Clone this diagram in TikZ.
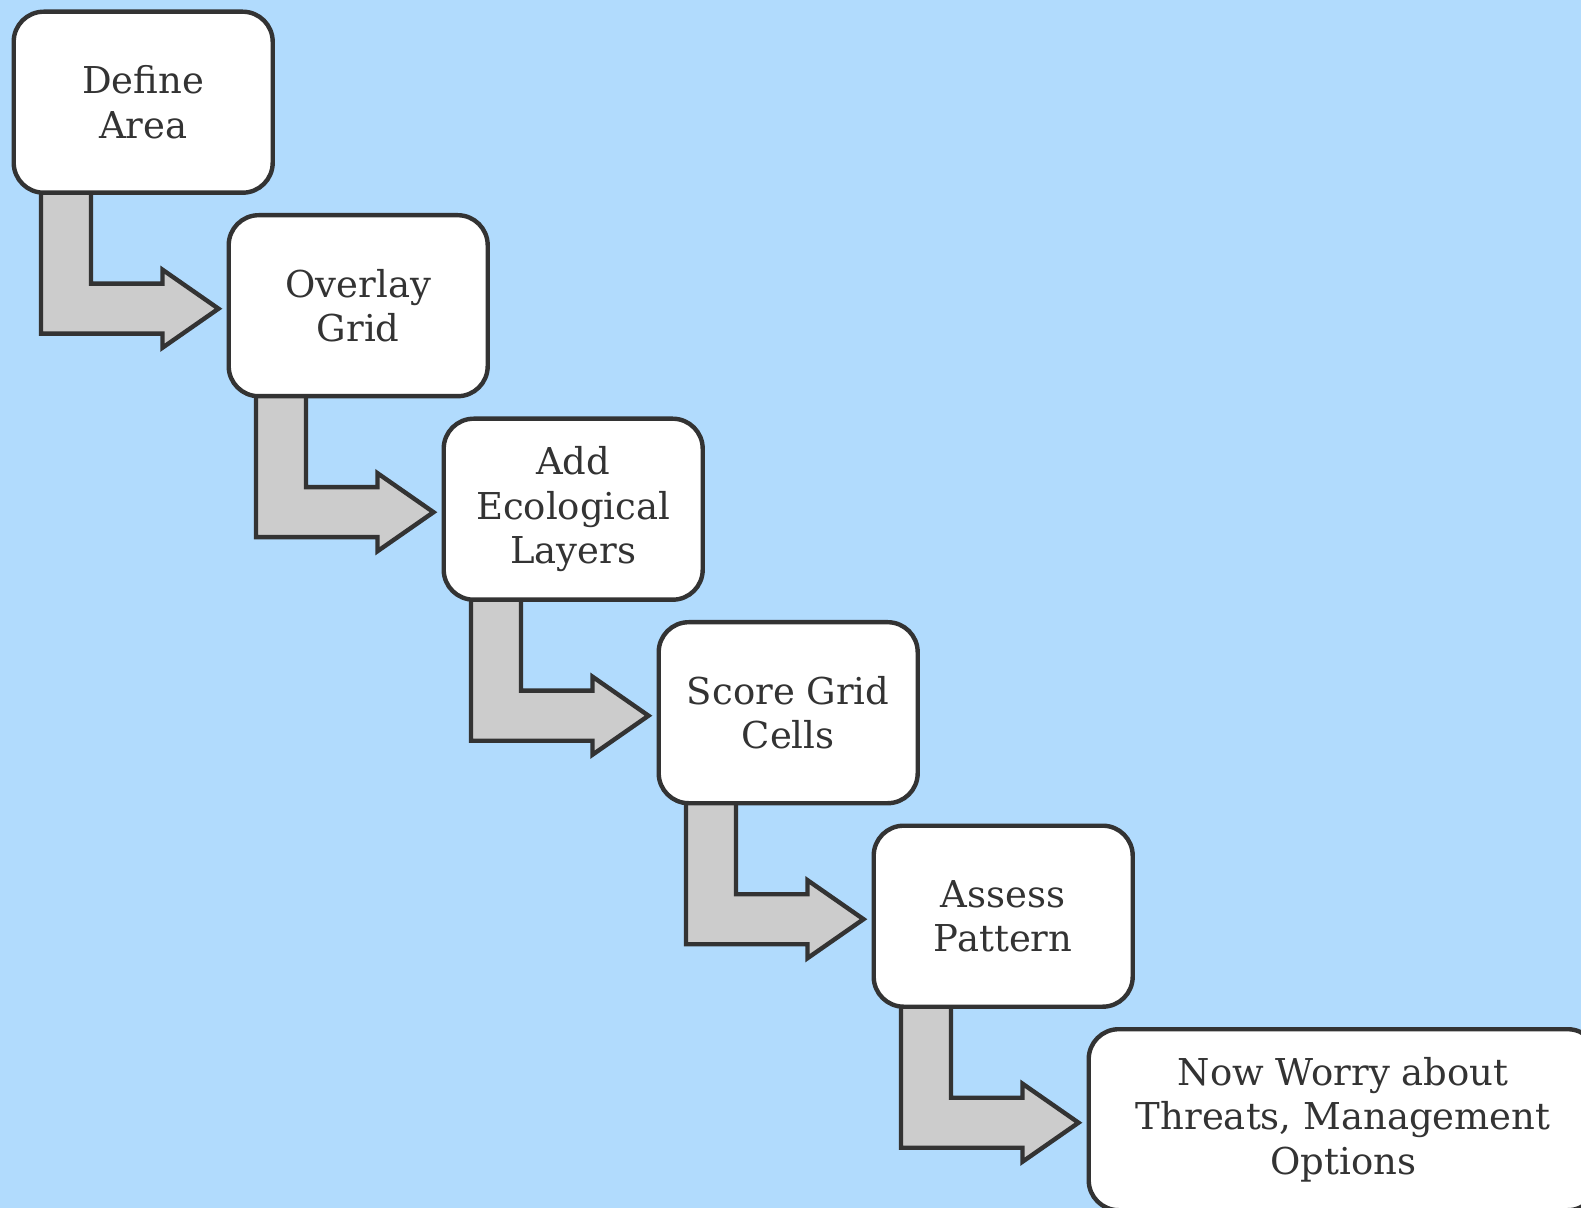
\documentclass[tikz,border=0pt]{standalone}
\usepackage{fontspec}
\setmainfont{DejaVu Serif}
\usetikzlibrary{calc}

\definecolor{skyblue}{HTML}{B1DBFD}
\definecolor{boxline}{HTML}{333333}
\definecolor{arrowgray}{HTML}{CCCCCC}

\pgfdeclarelayer{back}
\pgfsetlayers{back,main}

\tikzset{
  stepbox/.style={draw=boxline, fill=white, line width=2.2pt, rounded corners=15pt,
    minimum width=129.5pt, minimum height=90.5pt, align=center, text=boxline,
    font=\fontsize{18.5}{22.25}\selectfont, inner sep=0pt, anchor=north west},
  bendarrow/.style={draw=boxline, fill=arrowgray, line width=2.2pt, line join=miter}
}

\begin{document}
\begin{tikzpicture}[x=0.5pt, y=-0.5pt]
    % 1. Background
    \useasboundingbox (0,0) rectangle (1581,1208);
    \begin{pgfonlayer}{back}
        \fill[skyblue] (0,0) rectangle (1581,1208);
    \end{pgfonlayer}
    \clip (0,0) rectangle (1581,1208);

    % 2. Steps (each one 215 right and 203.5 down of the one before)
    \node[stepbox] (s1) at (11.5,9.5) {Define\\Area};
    \node[stepbox] (s2) at ($(s1.north west)+(215,203.5)$) {Overlay\\Grid};
    \node[stepbox] (s3) at ($(s2.north west)+(215,203.5)$) {Add\\Ecological\\Layers};
    \node[stepbox] (s4) at ($(s3.north west)+(215,203.5)$) {Score Grid\\Cells};
    \node[stepbox] (s5) at ($(s4.north west)+(215,203.5)$) {Assess\\Pattern};
    \node[stepbox, minimum width=254.5pt] (s6) at ($(s5.north west)+(215,203.5)$)
        {Now Worry about\\Threats, Management\\Options};

    % 3. Bent arrows (behind the boxes)
    \begin{pgfonlayer}{back}
    \foreach \a/\b in {s1/s2, s2/s3, s3/s4, s4/s5, s5/s6} {
        \draw[bendarrow] ($(\a.south west)+(29.5,-6)$) coordinate (p) -- ++(50,0)
            |- ($(\b.west)+(-64,-22)$) -- ++(0,-14) -- ($(\b.west)+(-8,3)$)
            -- ($(\b.west)+(-64,42)$) -- ++(0,-14) -| (p) -- cycle;
    }
    \end{pgfonlayer}

\end{tikzpicture}
\end{document}
